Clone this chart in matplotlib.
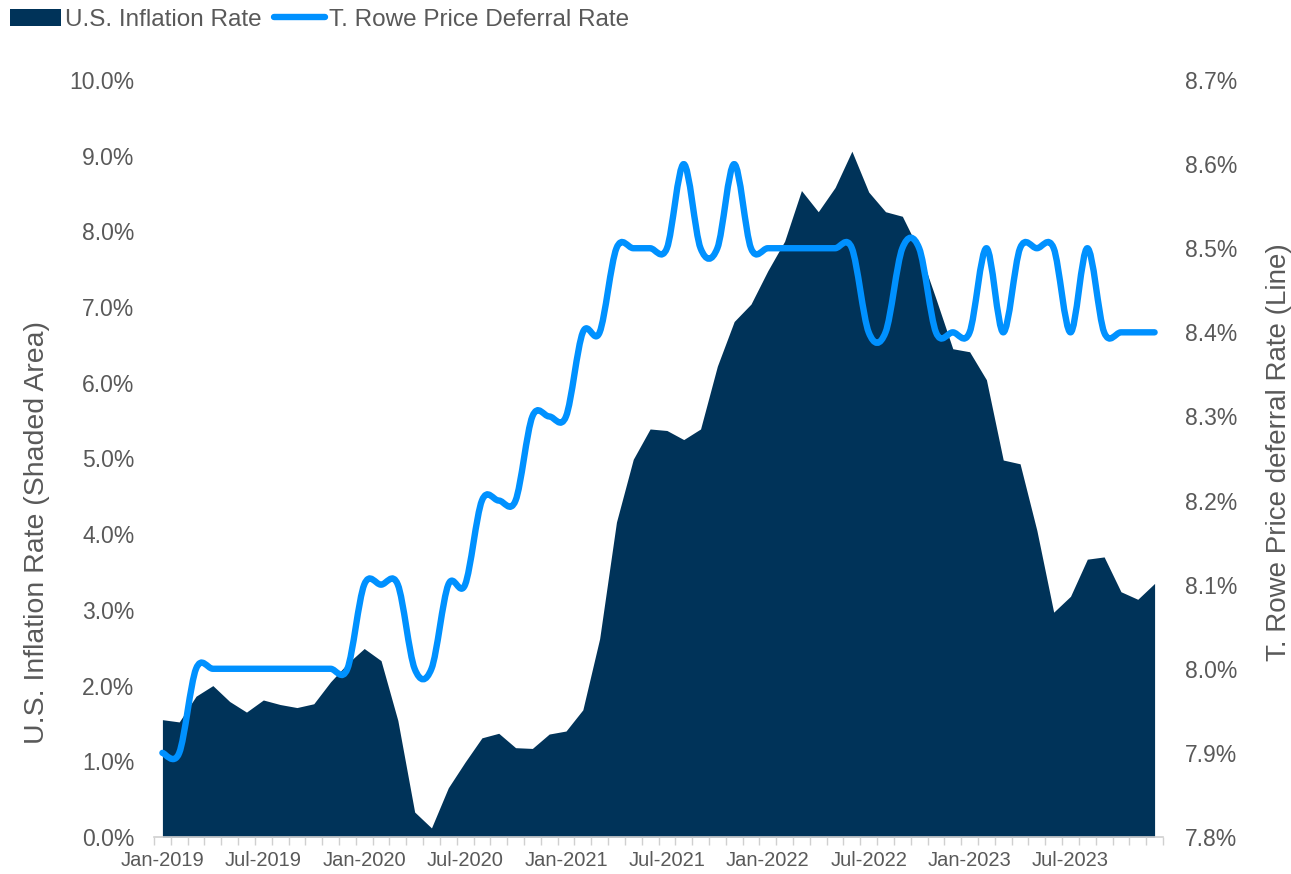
import numpy as np
import pandas as pd
import matplotlib.pyplot as plt
from matplotlib.path import Path
from matplotlib.patches import PathPatch, Patch
from matplotlib.lines import Line2D
from matplotlib.ticker import FuncFormatter

plt.rcParams['font.family'] = ['Liberation Sans', 'DejaVu Sans']

# Monthly categories Jan-2019 .. Dec-2023
months = list(pd.date_range('2019-01-01', periods=60, freq='MS').strftime('%b-%Y'))

# U.S. CPI inflation, YoY %
inflation = [1.55, 1.52, 1.86, 2.00, 1.79, 1.65, 1.81, 1.75, 1.71, 1.76, 2.05, 2.29,
             2.49, 2.33, 1.54, 0.33, 0.12, 0.65, 0.99, 1.31, 1.37, 1.18, 1.17, 1.36,
             1.40, 1.68, 2.62, 4.16, 4.99, 5.39, 5.37, 5.25, 5.39, 6.22, 6.81, 7.04,
             7.48, 7.87, 8.54, 8.26, 8.58, 9.06, 8.52, 8.26, 8.20, 7.75, 7.11, 6.45,
             6.41, 6.04, 4.98, 4.93, 4.05, 2.97, 3.18, 3.67, 3.70, 3.24, 3.14, 3.35]

# T. Rowe Price deferral rate, %
deferral = [7.9, 7.9, 8.0, 8.0, 8.0, 8.0, 8.0, 8.0, 8.0, 8.0, 8.0, 8.0,
            8.1, 8.1, 8.1, 8.0, 8.0, 8.1, 8.1, 8.2, 8.2, 8.2, 8.3, 8.3,
            8.3, 8.4, 8.4, 8.5, 8.5, 8.5, 8.5, 8.6, 8.5, 8.5, 8.6, 8.5,
            8.5, 8.5, 8.5, 8.5, 8.5, 8.5, 8.4, 8.4, 8.5, 8.5, 8.4, 8.4,
            8.4, 8.5, 8.4, 8.5, 8.5, 8.5, 8.4, 8.5, 8.4, 8.4, 8.4, 8.4]

navy = '#003359'
blue = '#0091FF'
grey = '#595959'


# Excel style smoothed line -> bezier path
def smooth_path(xs, ys):
    n = len(xs)
    verts = [(xs[0], ys[0])]
    codes = [Path.MOVETO]
    for i in range(n - 1):
        x0, y0 = xs[max(i - 1, 0)], ys[max(i - 1, 0)]
        x1, y1 = xs[i], ys[i]
        x2, y2 = xs[i + 1], ys[i + 1]
        x3, y3 = xs[min(i + 2, n - 1)], ys[min(i + 2, n - 1)]
        verts += [(x1 + (x2 - x0) / 6, y1 + (y2 - y0) / 6),
                  (x2 - (x3 - x1) / 6, y2 - (y3 - y1) / 6),
                  (x2, y2)]
        codes += [Path.CURVE4] * 3
    return Path(verts, codes)


x = np.arange(len(months))

fig = plt.figure(figsize=(12.91, 8.74), dpi=100)
ax = fig.add_axes([154 / 1291, 1 - 837 / 874, (1163 - 154) / 1291, (837 - 80) / 874])

ax.fill_between(x, 0, inflation, color=navy, lw=0)
ax.set_xlim(-0.5, len(months) - 0.5)
ax.set_ylim(0, 10)
ax.set_yticks(np.arange(0, 11, 1))
ax.yaxis.set_major_formatter(FuncFormatter(lambda v, p: f'{v:.1f}%'))

ax.set_xticks(x[::6])
ax.set_xticklabels(months[::6])
ax.set_xticks(np.arange(-0.5, len(months), 1), minor=True)
ax.tick_params(axis='x', which='major', length=0, pad=10, labelsize=14.5, labelcolor=grey)
ax.tick_params(axis='x', which='minor', length=6, width=1, color='#D0D0D0', direction='out')
ax.tick_params(axis='y', length=0, pad=14, labelsize=16.5, labelcolor=grey)

for s in ['top', 'left', 'right']:
    ax.spines[s].set_visible(False)
ax.spines['bottom'].set_color('#D0D0D0')
ax.spines['bottom'].set_linewidth(1.2)

ax2 = ax.twinx()
ax2.add_patch(PathPatch(smooth_path(x, deferral), fill=False, edgecolor=blue,
                        lw=4.6, capstyle='round', joinstyle='round'))
ax2.set_ylim(7.8, 8.7)
ax2.set_yticks(np.round(np.arange(7.8, 8.71, 0.1), 1))
ax2.yaxis.set_major_formatter(FuncFormatter(lambda v, p: f'{v:.1f}%'))
ax2.tick_params(axis='y', length=0, pad=16, labelsize=16.5, labelcolor=grey)
for s in ['top', 'left', 'right', 'bottom']:
    ax2.spines[s].set_visible(False)

fig.text(37 / 1291, 1 - 532 / 874, 'U.S. Inflation Rate (Shaded Area)', rotation=90,
         ha='center', va='center', fontsize=20.5, color=grey)
fig.text(1279 / 1291, 1 - 452 / 874, 'T. Rowe Price deferral Rate (Line)', rotation=90,
         ha='center', va='center', fontsize=20, color=grey)

handles = [Patch(facecolor=navy, edgecolor='none', label='U.S. Inflation Rate'),
           Line2D([], [], color=blue, lw=4.6, solid_capstyle='round', label='T. Rowe Price Deferral Rate')]
fig.legend(handles=handles, loc='upper left', bbox_to_anchor=(0.0005, 1.001), ncol=2,
           frameon=False, fontsize=17.5, labelcolor=grey, handlelength=2.1,
           handletextpad=0.15, columnspacing=0.5, borderaxespad=0)

fig.savefig('out.png', dpi=100)
